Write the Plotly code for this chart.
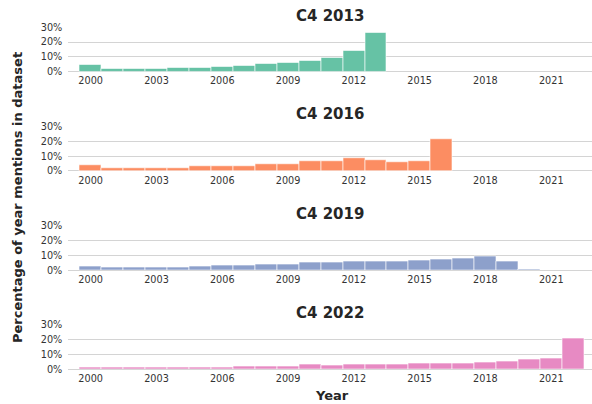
import plotly.graph_objects as go

years = list(range(2000, 2023))

c4_2013 = [4.5, 1.8, 1.8, 2.0, 2.5, 3.0, 3.6, 4.1, 5.2, 6.1, 7.7, 9.3, 13.8, 26.4,
           0, 0, 0, 0, 0, 0, 0, 0, 0]
c4_2016 = [4.1, 1.8, 1.8, 2.0, 2.0, 3.0, 3.4, 3.6, 4.8, 5.0, 6.4, 6.8, 8.4, 7.5,
           5.7, 6.4, 21.4, 0, 0, 0, 0, 0, 0]
c4_2019 = [2.4, 2.0, 1.8, 2.2, 2.2, 2.7, 3.1, 3.6, 4.0, 4.0, 5.1, 5.1, 5.8, 5.8,
           6.2, 6.9, 7.3, 8.0, 9.6, 6.2, 0.9, 0, 0]
c4_2022 = [1.6, 1.0, 1.0, 1.0, 1.1, 1.3, 1.3, 1.8, 2.2, 2.2, 3.3, 2.9, 3.1, 3.1,
           3.3, 3.8, 4.2, 4.2, 4.7, 5.6, 6.9, 7.6, 21.1]

panel_titles = ["C4 2013", "C4 2016", "C4 2019", "C4 2022"]
series = [c4_2013, c4_2016, c4_2019, c4_2022]
colors = ["#66c2a5", "#fc8d62", "#8da0cb", "#e78ac3"]

x_ticks = [2000, 2003, 2006, 2009, 2012, 2015, 2018, 2021]
y_ticks = [0, 10, 20, 30]

W, H = 592, 404
bottoms_px = [71.7, 171.0, 270.3, 369.3]
px_per_pct = 44.5 / 30.0
ytop = 30.3
title_y_px = [15.5, 114.5, 213.5, 313.0]

fig = go.Figure()
layout = dict(
    width=W, height=H,
    margin=dict(l=0, r=0, t=0, b=0, autoexpand=False),
    paper_bgcolor="white", plot_bgcolor="white",
    showlegend=False, bargap=0,
    font=dict(family="DejaVu Sans", color="#333333"),
)
annotations = []
x_left = 2000 + (68.3 - 90.7) / 21.93
x_right = 2000 + (592 - 90.7) / 21.93

for i, (vals, col, ttl) in enumerate(zip(series, colors, panel_titles)):
    n = "" if i == 0 else str(i + 1)
    fig.add_trace(go.Bar(
        x=years, y=vals, width=1,
        marker=dict(color=col, line=dict(
            color="white", width=[0.6 if v > 0 else 0 for v in vals])),
        xaxis="x" + n, yaxis="y" + n,
    ))
    b = bottoms_px[i]
    t = b - ytop * px_per_pct
    layout["xaxis" + n] = dict(
        domain=[68.3 / W, 1], range=[x_left, x_right],
        tickmode="array", tickvals=x_ticks, ticktext=[str(v) for v in x_ticks],
        showgrid=False, zeroline=False, showline=False, ticks="",
        tickfont=dict(size=9.7, color="#333333"),
        anchor="y" + n, ticklabelstandoff=2, automargin=False,
    )
    layout["yaxis" + n] = dict(
        domain=[1 - b / H, 1 - t / H], range=[0, ytop],
        tickmode="array", tickvals=y_ticks,
        ticktext=[f"{v}%" for v in y_ticks],
        showgrid=True, gridcolor="#d4d4d4", gridwidth=1,
        zeroline=True, zerolinecolor="#d4d4d4", zerolinewidth=1,
        showline=False, ticks="",
        tickfont=dict(size=9.7, color="#333333"),
        anchor="x" + n, ticklabelstandoff=5, automargin=False,
    )
    annotations.append(dict(
        text=f"<b>{ttl}</b>", x=(68.3 + 592) / 2 / W, y=1 - title_y_px[i] / H,
        xref="paper", yref="paper", xanchor="center", yanchor="middle",
        showarrow=False, font=dict(size=15, color="#262626", family="DejaVu Sans"),
    ))

annotations.append(dict(
    text="<b>Year</b>", x=332 / W, y=1 - 395.5 / H, xref="paper", yref="paper",
    xanchor="center", yanchor="middle", showarrow=False,
    font=dict(size=13, color="#262626", family="DejaVu Sans"),
))
annotations.append(dict(
    text="<b>Percentage of year mentions in dataset</b>", x=17 / W, y=1 - 198 / H,
    xref="paper", yref="paper", xanchor="center", yanchor="middle",
    textangle=-90, showarrow=False,
    font=dict(size=13, color="#262626", family="DejaVu Sans"),
))
layout["annotations"] = annotations
fig.update_layout(**layout)
fig.write_html(
    "out.html",
    config={"displayModeBar": False},
    post_script="document.body.style.margin='0';document.body.style.overflow='hidden';",
)
